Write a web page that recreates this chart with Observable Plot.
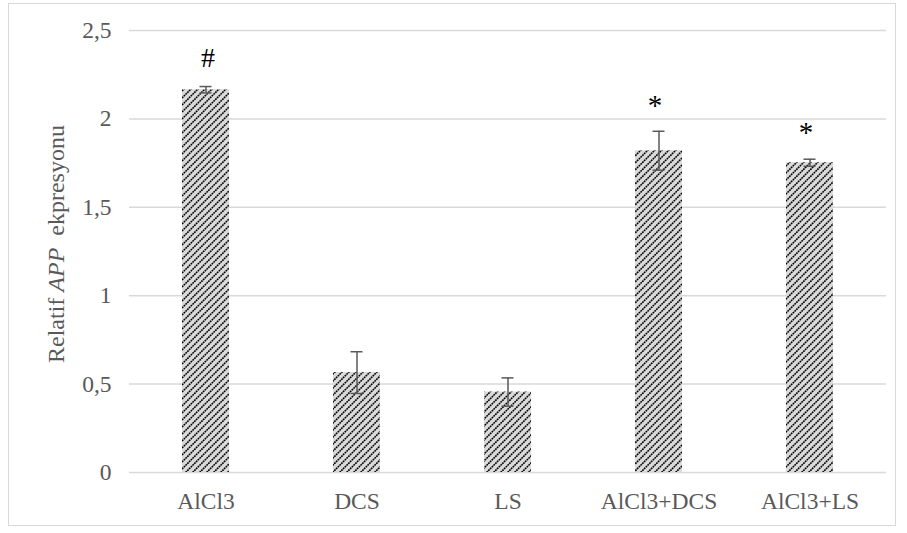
<!DOCTYPE html>
<html>
<head>
<meta charset="utf-8">
<script src="https://cdn.jsdelivr.net/npm/d3@7"></script>
<script src="https://cdn.jsdelivr.net/npm/@observablehq/plot@0.6"></script>
<style>
  html, body { margin: 0; padding: 0; background: #fff; }
  #wrap { position: relative; width: 907px; height: 533px; overflow: hidden; }
  #frame { position: absolute; left: 8px; top: 3px; width: 888px; height: 523px; border: 1.5px solid #d9d9d9; box-sizing: border-box; }
  #chart { position: absolute; left: 0; top: 0; }
</style>
</head>
<body>
<div id="wrap"><div id="frame"></div><div id="chart"></div></div>
<script>
const categories = ["AlCl3", "DCS", "LS", "AlCl3+DCS", "AlCl3+LS"];
const values = [2.165, 0.565, 0.455, 1.82, 1.752];
const errors = [0.018, 0.118, 0.08, 0.11, 0.02];
const markLabels = ["#", "", "", "*", "*"];
const markY = [2.345, null, null, 2.075, 1.92];
const yTicks = [0, 0.5, 1, 1.5, 2, 2.5];

const data = categories.map((c, i) => ({
  cat: c, v: values[i], lo: values[i] - errors[i], hi: values[i] + errors[i],
  mark: markLabels[i], my: markY[i]
}));
const hashMarks = data.filter(d => d.mark === "#");
const starMarks = data.filter(d => d.mark === "*");

const font = "'Liberation Serif', 'Times New Roman', serif";
const grey = "#595959";

const chart = Plot.plot({
  width: 907,
  height: 533,
  marginLeft: 129,
  marginRight: 21,
  marginTop: 30,
  marginBottom: 61,
  style: { fontFamily: font, fontSize: "23.5px", color: grey, background: "transparent" },
  x: { domain: categories, padding: 0, label: null },
  y: { domain: [0, 2.5], label: null },
  marks: [
    Plot.gridY(yTicks, { stroke: "#d9d9d9", strokeOpacity: 1, strokeWidth: 1.5 }),
    Plot.axisY(yTicks, { tickSize: 0, tickPadding: 18, tickFormat: d => String(d).replace(".", ","), fill: grey, fontSize: 23.5 }),
    Plot.axisX({ tickSize: 0, tickPadding: 20, fill: grey, fontSize: 23.5 }),
    Plot.barY(data, { x: "cat", y: "v", fill: "url(#hatch)", insetLeft: 52, insetRight: 52 }),
    Plot.ruleX(data, { x: "cat", y1: "lo", y2: "hi", stroke: grey, strokeWidth: 1.5 }),
    Plot.tickY(data, { x: "cat", y: "lo", stroke: grey, strokeWidth: 1.5, insetLeft: 69.5, insetRight: 69.5 }),
    Plot.tickY(data, { x: "cat", y: "hi", stroke: grey, strokeWidth: 1.5, insetLeft: 69.5, insetRight: 69.5 }),
    Plot.text(hashMarks, { x: "cat", y: "my", text: "mark", fill: "#000", fontSize: 28, dx: 2 }),
    Plot.text(starMarks, { x: "cat", y: "my", text: "mark", fill: "#000", fontSize: 29, dx: -4 })
  ]
});

document.getElementById("chart").appendChild(chart);

const svg = d3.select(chart);
const defs = svg.insert("defs", ":first-child");
const pat = defs.append("pattern")
  .attr("id", "hatch")
  .attr("patternUnits", "userSpaceOnUse")
  .attr("width", 7).attr("height", 7);
pat.append("rect").attr("width", 7).attr("height", 7).attr("fill", "#dadada");
pat.append("path")
  .attr("d", "M0,7 L7,0 M-3.5,3.5 L3.5,-3.5 M3.5,10.5 L10.5,3.5")
  .attr("stroke", "#000")
  .attr("stroke-width", 1.6)
  .attr("stroke-dasharray", "1.8 0.675");

const title = svg.append("text")
  .attr("transform", "translate(64,244) rotate(-90)")
  .attr("text-anchor", "middle")
  .attr("fill", grey)
  .attr("font-family", font)
  .attr("font-size", 24)
  .attr("xml:space", "preserve");
title.append("tspan").text("Relatif ");
title.append("tspan").attr("font-style", "italic").text("APP");
title.append("tspan").text("  ekpresyonu");
</script>
</body>
</html>
